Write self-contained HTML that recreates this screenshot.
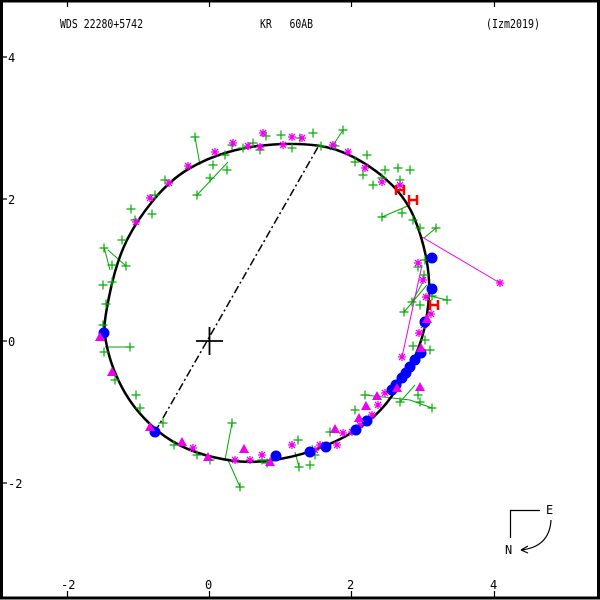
<!DOCTYPE html><html><head><style>html,body{margin:0;padding:0;background:#fff}svg{display:block}text{font-family:"DejaVu Sans Mono","Liberation Mono",monospace;font-size:12px;fill:#000;white-space:pre}</style></head><body>
<svg width="600" height="600" viewBox="0 0 600 600" xmlns="http://www.w3.org/2000/svg">
<defs>
<g id="c"><path d="M-4.5 0H4.5M0 -4.5V4.5" stroke="#0a0" stroke-width="1.2"/></g>
<g id="s"><path d="M-4 0H4M0 -4V4M-3 -3L3 3M-3 3L3 -3" stroke="#e0e" stroke-width="1.3"/></g>
<g id="b"><circle r="5.5" fill="#00f"/></g>
<g id="t"><path d="M0 -6L5 3H-5Z" fill="#e0e"/></g>
<g id="h"><path d="M-4 -5V5M4 -5V5M-4 0H4" stroke="#f00" stroke-width="2.5"/></g>
</defs>
<rect x="1.5" y="1" width="597" height="597" fill="none" stroke="#000" stroke-width="3"/>
<g stroke="#000" stroke-width="1.2">
<path d="M67.5 2v5M209.5 2v5M351.5 2v5M494.5 2v5M67.5 597v-6M209.5 597v-6M351.5 597v-6M494.5 597v-6M3 57h4M3 199h4M3 341h4M3 483h4"/>
</g>
<text x="60" y="28" textLength="83" lengthAdjust="spacingAndGlyphs">WDS 22280+5742</text>
<text x="260" y="28" xml:space="preserve" textLength="53" lengthAdjust="spacingAndGlyphs">KR   60AB</text>
<text x="486" y="28" textLength="54" lengthAdjust="spacingAndGlyphs">(Izm2019)</text>
<text x="8" y="62">4</text><text x="8" y="204">2</text><text x="8" y="346">0</text><text x="8" y="488">-2</text>
<text x="61" y="589">-2</text><text x="205" y="589">0</text><text x="347" y="589">2</text><text x="490" y="589">4</text>
<g stroke="#0a0" stroke-width="1" fill="none">
<path d="M195 137L200 165M197 195L228 162M343 130L330 150M382 217L410 205M365 395L410 400M232 423L225 460M240 487L228 460M130 347L105 347M126 266L108 250M104 247L110 270M436 228L424 238M447 300L430 296M432 408L410 400M412 302L425 278M404 312L427 285M400 402L415 385M299 467L295 452M315 455L312 445"/>
</g>
<g stroke="#e0e" stroke-width="1" fill="none"><path d="M422 237L500 283M402 357L422 265"/></g>
<path fill="none" stroke="#000" stroke-width="2.5" d="M104.5 330 Q104 320 110.5 290 Q117 260 127 240 Q137 220 153.5 200 Q170 180 188.5 169 Q207 158 228.5 152 Q250 146 273.5 144.5 Q297 143 317 145.5 Q337 148 357 159 Q377 170 392 185 Q407 200 414.5 218.5 Q422 237 426 257 Q430 277 429 295 Q428 313 424 330 Q420 347 411.5 363.5 Q403 380 391.5 396.5 Q380 413 363.5 425 Q347 437 325 446 Q303 455 280 459 Q257 463 240 461.5 Q223 460 205 455 Q187 450 172 441 Q157 432 143.5 417.5 Q130 403 121.5 386.5 Q113 370 109 355 Q105 340 104.5 330 Z"/>
<line x1="155" y1="432" x2="318" y2="147" stroke="#000" stroke-width="1.5" stroke-dasharray="8,3,2,3"/>
<path d="M196 341H223M209.5 327V355" stroke="#000" stroke-width="1.8"/>
<g>
<use href="#c" x="195" y="137"/><use href="#c" x="213" y="165"/><use href="#c" x="210" y="178"/><use href="#c" x="225" y="155"/><use href="#c" x="227" y="170"/><use href="#c" x="232" y="145"/><use href="#c" x="197" y="195"/><use href="#c" x="243" y="148"/><use href="#c" x="253" y="143"/><use href="#c" x="260" y="150"/><use href="#c" x="266" y="136"/><use href="#c" x="281" y="135"/><use href="#c" x="292" y="148"/><use href="#c" x="300" y="138"/><use href="#c" x="313" y="133"/><use href="#c" x="321" y="146"/><use href="#c" x="335" y="146"/><use href="#c" x="343" y="130"/><use href="#c" x="355" y="162"/><use href="#c" x="363" y="175"/><use href="#c" x="385" y="170"/><use href="#c" x="367" y="155"/><use href="#c" x="373" y="185"/><use href="#c" x="382" y="178"/><use href="#c" x="398" y="168"/><use href="#c" x="400" y="180"/><use href="#c" x="410" y="170"/><use href="#c" x="382" y="217"/><use href="#c" x="402" y="213"/><use href="#c" x="413" y="220"/><use href="#c" x="420" y="228"/><use href="#c" x="436" y="228"/><use href="#c" x="424" y="275"/><use href="#c" x="418" y="267"/><use href="#c" x="412" y="302"/><use href="#c" x="404" y="312"/><use href="#c" x="425" y="260"/><use href="#c" x="432" y="296"/><use href="#c" x="447" y="300"/><use href="#c" x="420" y="305"/><use href="#c" x="425" y="340"/><use href="#c" x="430" y="350"/><use href="#c" x="413" y="346"/><use href="#c" x="400" y="402"/><use href="#c" x="418" y="395"/><use href="#c" x="432" y="408"/><use href="#c" x="365" y="395"/><use href="#c" x="420" y="402"/><use href="#c" x="355" y="410"/><use href="#c" x="330" y="432"/><use href="#c" x="315" y="455"/><use href="#c" x="310" y="465"/><use href="#c" x="299" y="467"/><use href="#c" x="298" y="440"/><use href="#c" x="267" y="463"/><use href="#c" x="262" y="460"/><use href="#c" x="232" y="423"/><use href="#c" x="240" y="487"/><use href="#c" x="210" y="460"/><use href="#c" x="197" y="455"/><use href="#c" x="174" y="445"/><use href="#c" x="163" y="423"/><use href="#c" x="140" y="408"/><use href="#c" x="136" y="395"/><use href="#c" x="115" y="380"/><use href="#c" x="104" y="352"/><use href="#c" x="130" y="347"/><use href="#c" x="103" y="325"/><use href="#c" x="106" y="304"/><use href="#c" x="103" y="285"/><use href="#c" x="112" y="282"/><use href="#c" x="104" y="248"/><use href="#c" x="126" y="266"/><use href="#c" x="112" y="265"/><use href="#c" x="122" y="240"/><use href="#c" x="131" y="209"/><use href="#c" x="135" y="220"/><use href="#c" x="152" y="214"/><use href="#c" x="155" y="195"/><use href="#c" x="165" y="180"/>
</g>
<g>
<use href="#s" x="263" y="133"/><use href="#s" x="260" y="147"/><use href="#s" x="233" y="143"/><use href="#s" x="215" y="152"/><use href="#s" x="188" y="166"/><use href="#s" x="169" y="183"/><use href="#s" x="150" y="198"/><use href="#s" x="136" y="222"/><use href="#s" x="248" y="146"/><use href="#s" x="283" y="145"/><use href="#s" x="292" y="137"/><use href="#s" x="302" y="138"/><use href="#s" x="333" y="145"/><use href="#s" x="348" y="152"/><use href="#s" x="365" y="168"/><use href="#s" x="382" y="182"/><use href="#s" x="400" y="185"/><use href="#s" x="418" y="263"/><use href="#s" x="423" y="280"/><use href="#s" x="426" y="297"/><use href="#s" x="431" y="314"/><use href="#s" x="424" y="325"/><use href="#s" x="419" y="333"/><use href="#s" x="402" y="357"/><use href="#s" x="385" y="393"/><use href="#s" x="378" y="405"/><use href="#s" x="372" y="415"/><use href="#s" x="360" y="425"/><use href="#s" x="352" y="432"/><use href="#s" x="343" y="433"/><use href="#s" x="337" y="445"/><use href="#s" x="320" y="445"/><use href="#s" x="315" y="450"/><use href="#s" x="292" y="445"/><use href="#s" x="262" y="455"/><use href="#s" x="250" y="460"/><use href="#s" x="235" y="460"/><use href="#s" x="193" y="448"/><use href="#s" x="500" y="283"/>
</g>
<g>
<use href="#b" x="104" y="333"/><use href="#b" x="155" y="432"/><use href="#b" x="276" y="456"/><use href="#b" x="310" y="452"/><use href="#b" x="326" y="447"/><use href="#b" x="356" y="430"/><use href="#b" x="367" y="421"/><use href="#b" x="392" y="390"/><use href="#b" x="396" y="385"/><use href="#b" x="402" y="378"/><use href="#b" x="406" y="373"/><use href="#b" x="410" y="367"/><use href="#b" x="415" y="360"/><use href="#b" x="421" y="353"/><use href="#b" x="425" y="322"/><use href="#b" x="432" y="289"/><use href="#b" x="432" y="258"/>
</g>
<g>
<use href="#t" x="100" y="338"/><use href="#t" x="112" y="373"/><use href="#t" x="150" y="428"/><use href="#t" x="182" y="443"/><use href="#t" x="208" y="458"/><use href="#t" x="244" y="450"/><use href="#t" x="270" y="463"/><use href="#t" x="335" y="430"/><use href="#t" x="359" y="419"/><use href="#t" x="366" y="407"/><use href="#t" x="377" y="397"/><use href="#t" x="397" y="389"/><use href="#t" x="421" y="349"/><use href="#t" x="427" y="320"/><use href="#t" x="420" y="388"/>
</g>
<use href="#h" x="400" y="190"/><use href="#h" x="413" y="200"/><use href="#h" x="434" y="305"/>
<path d="M510.5 538V510.5H540" fill="none" stroke="#000" stroke-width="1.2"/>
<path d="M551 520C550 538 540 548 521 550M521 550L528 546M521 550L528 553" fill="none" stroke="#000" stroke-width="1.2"/>
<text x="546" y="514">E</text><text x="505" y="554">N</text>
</svg>
</body></html>
